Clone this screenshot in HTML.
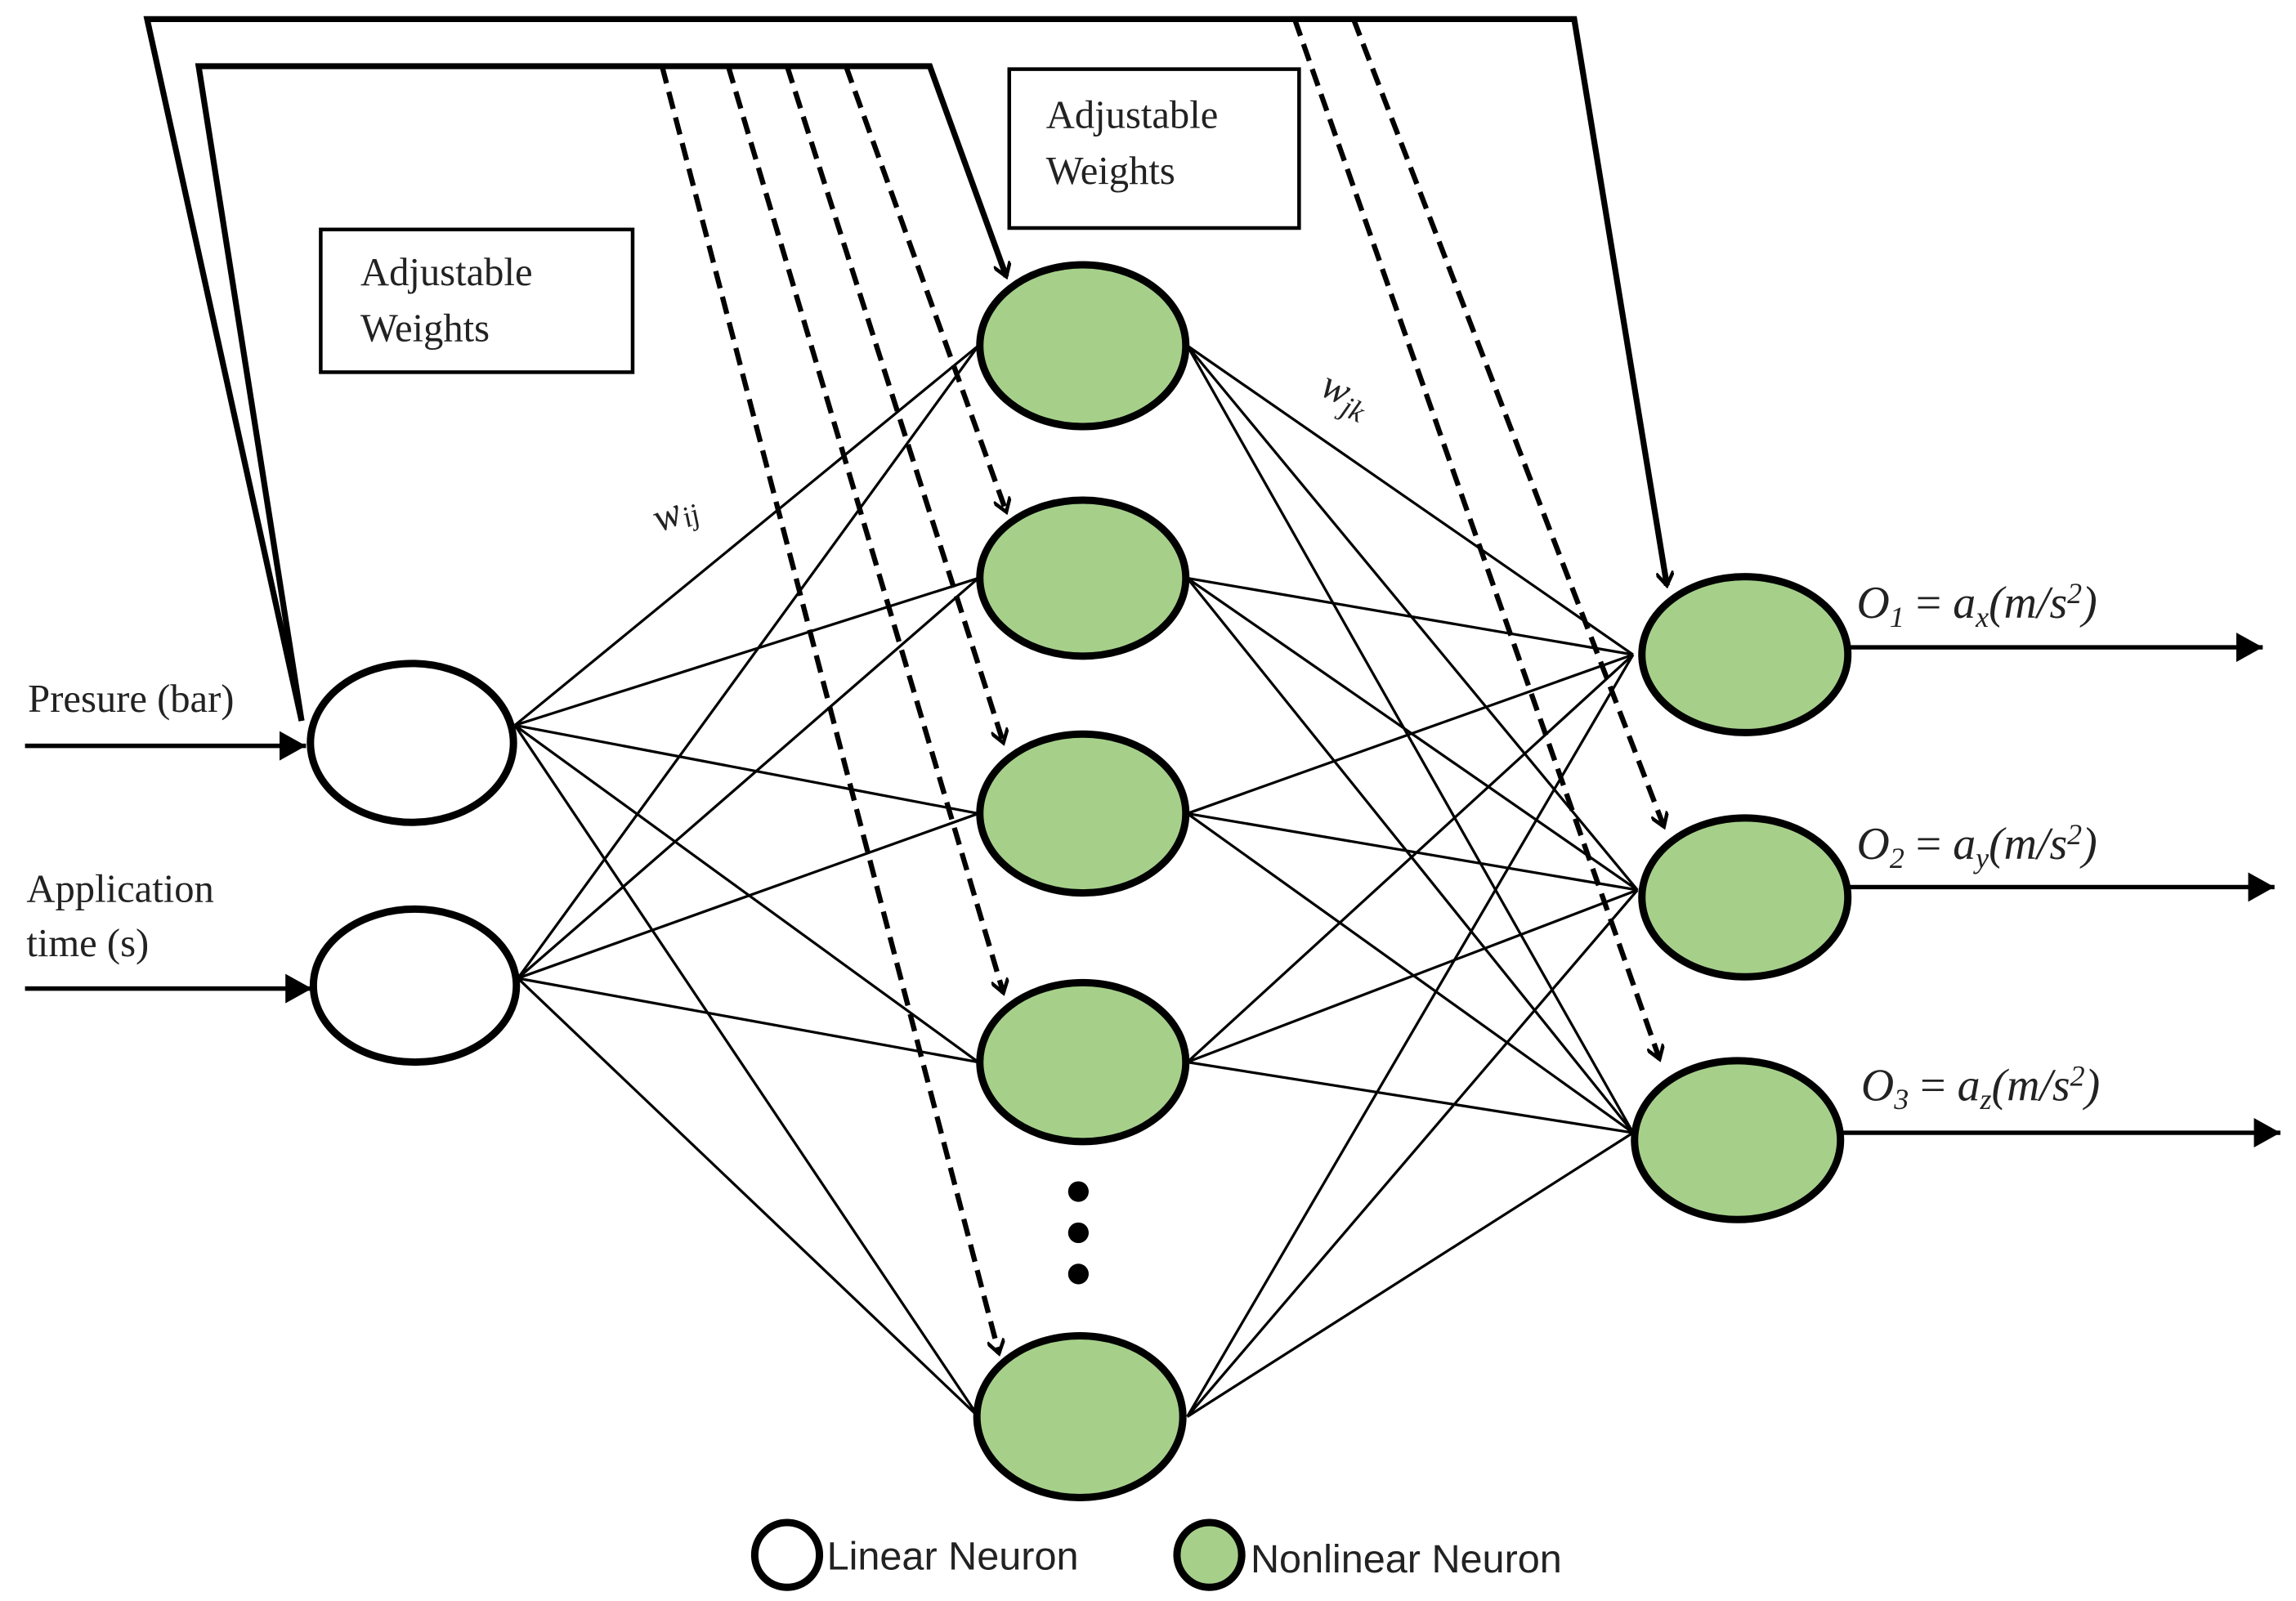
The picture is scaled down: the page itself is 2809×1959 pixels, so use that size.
<!DOCTYPE html>
<html><head><meta charset="utf-8"><style>html,body{margin:0;padding:0;background:#fff}svg{display:block}</style></head>
<body>
<svg width="2809" height="1959" viewBox="0 0 1560.6 1088.3" preserveAspectRatio="none" xmlns="http://www.w3.org/2000/svg">
<defs>
<marker id="v" markerWidth="12" markerHeight="12" refX="10" refY="6" orient="auto" markerUnits="userSpaceOnUse"><path d="M1,0 L10,6 L1,12" fill="none" stroke="#000" stroke-width="2.5"/></marker>
<marker id="t" markerWidth="20" markerHeight="20" refX="18" refY="10" orient="auto" markerUnits="userSpaceOnUse"><path d="M0,0 L18,10 L0,20 Z" fill="#000"/></marker>
</defs>
<g fill="none" stroke="#000">
<path d="M205,490 L100,13 L1070,13 L1133,398" stroke-width="4" marker-end="url(#v)"/>
<path d="M205,490 L135,45 L632,45 L684,188" stroke-width="4" marker-end="url(#v)"/>
<g stroke-width="3.5" stroke-dasharray="12,6">
<path d="M575,45 L684,348" marker-end="url(#v)"/>
<path d="M535,45 L682,505" marker-end="url(#v)"/>
<path d="M495,45 L682,675" marker-end="url(#v)"/>
<path d="M450,45 L679,920" marker-end="url(#v)"/>
<path d="M920,13 L1131,562" marker-end="url(#v)"/>
<path d="M880,13 L1128,720" marker-end="url(#v)"/>
</g>
<rect x="218" y="156" width="212" height="97" stroke-width="2.5"/>
<rect x="686" y="47" width="197" height="108" stroke-width="2.5"/>
<g stroke-width="1.8">
<path d="M350,493 L665,235 M350,493 L665,393 M350,493 L665,553 M350,493 L665,722 M350,493 L665,963"/>
<path d="M352,665 L665,235 M352,665 L665,393 M352,665 L665,553 M352,665 L665,722 M352,665 L665,963"/>
<path d="M807,235 L1110,445 M807,235 L1113,605 M807,235 L1110,770"/>
<path d="M807,393 L1110,445 M807,393 L1113,605 M807,393 L1110,770"/>
<path d="M807,553 L1110,445 M807,553 L1113,605 M807,553 L1110,770"/>
<path d="M807,722 L1110,445 M807,722 L1113,605 M807,722 L1110,770"/>
<path d="M807,963 L1110,445 M807,963 L1113,605 M807,963 L1110,770"/>
</g>
<path d="M17,507 L208,507" stroke-width="3" marker-end="url(#t)"/>
<path d="M17,672 L212,672" stroke-width="3" marker-end="url(#t)"/>
<path d="M1257,440 L1538,440" stroke-width="3" marker-end="url(#t)"/>
<path d="M1257,603 L1546,603" stroke-width="3" marker-end="url(#t)"/>
<path d="M1252,770 L1550,770" stroke-width="3" marker-end="url(#t)"/>
</g>
<g stroke="#000" stroke-width="5">
<ellipse cx="280" cy="505" rx="69" ry="54" fill="#fff"/>
<ellipse cx="282" cy="670" rx="69" ry="52" fill="#fff"/>
<g fill="#a6d08a">
<ellipse cx="736" cy="235" rx="70" ry="55"/>
<ellipse cx="736" cy="393" rx="70" ry="53"/>
<ellipse cx="736" cy="553" rx="70" ry="54"/>
<ellipse cx="736" cy="722" rx="70" ry="54"/>
<ellipse cx="734" cy="963" rx="70" ry="55"/>
<ellipse cx="1186" cy="445" rx="70" ry="53"/>
<ellipse cx="1186" cy="610" rx="70" ry="54"/>
<ellipse cx="1181" cy="775" rx="70" ry="54"/>
</g>
<circle cx="535" cy="1057" r="22" fill="#fff"/>
<circle cx="822" cy="1057" r="22" fill="#a6d08a"/>
</g>
<g fill="#000"><circle cx="733" cy="810" r="7"/><circle cx="733" cy="838" r="7"/><circle cx="733" cy="866" r="7"/></g>
<g font-family="'Liberation Serif', serif" font-size="27" fill="#222">
<text x="245" y="194">Adjustable</text><text x="245" y="232">Weights</text>
<text x="711" y="87">Adjustable</text><text x="711" y="125">Weights</text>
<text x="19" y="484">Presure (bar)</text>
<text x="18" y="613">Application</text><text x="18" y="650">time (s)</text>
<text x="0" y="0" font-size="28" font-style="italic" transform="translate(448,362) rotate(-22)">w<tspan font-size="20" dy="4">ij</tspan></text>
<text x="0" y="0" font-size="28" font-style="italic" transform="translate(896,268) rotate(25)">w<tspan font-size="20" dy="6">jk</tspan></text>
</g>
<g font-family="'Liberation Serif', serif" font-size="31" font-style="italic" fill="#222">
<text x="1262" y="420">O<tspan font-size="20" dy="6">1</tspan><tspan dy="-6" font-style="normal"> = </tspan>a<tspan font-size="20" dy="6">x</tspan><tspan dy="-6">(m/s</tspan><tspan font-size="20" dy="-10">2</tspan><tspan dy="10">)</tspan></text>
<text x="1262" y="584">O<tspan font-size="20" dy="6">2</tspan><tspan dy="-6" font-style="normal"> = </tspan>a<tspan font-size="20" dy="6">y</tspan><tspan dy="-6">(m/s</tspan><tspan font-size="20" dy="-10">2</tspan><tspan dy="10">)</tspan></text>
<text x="1265" y="748">O<tspan font-size="20" dy="6">3</tspan><tspan dy="-6" font-style="normal"> = </tspan>a<tspan font-size="20" dy="6">z</tspan><tspan dy="-6">(m/s</tspan><tspan font-size="20" dy="-10">2</tspan><tspan dy="10">)</tspan></text>
</g>
<g font-family="'Liberation Sans', sans-serif" font-size="27" fill="#222">
<text x="562" y="1067">Linear Neuron</text>
<text x="850" y="1069">Nonlinear Neuron</text>
</g>
</svg>
</body></html>
